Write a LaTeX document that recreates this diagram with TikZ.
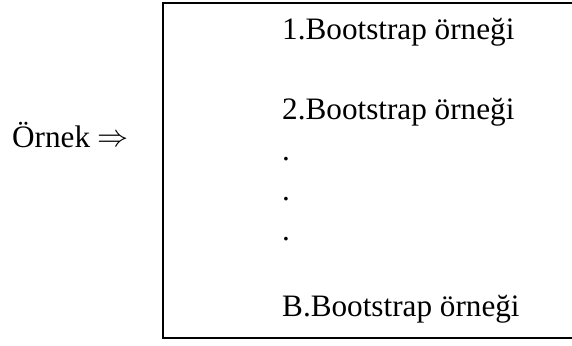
\documentclass[tikz,border=0pt]{standalone}
\usepackage{fontspec}
\usepackage{graphicx}
\setmainfont{Liberation Serif}
\begin{document}
\begin{tikzpicture}[x=1pt,y=-1pt,
  lbl/.style={inner sep=0pt,anchor=base west,font=\fontsize{31.2}{36}\selectfont},
  frame/.style={draw=black,line width=2pt}]
\useasboundingbox (0,0) rectangle (572,345);
\clip (0,0) rectangle (572,345);
\coordinate (tr) at (590,3);
\coordinate (tl) at (163,3);
\coordinate (bl) at (163,338);
\coordinate (br) at (590,338);
\draw[frame] (tr) -- (tl) -- (bl) -- (br);
\node[lbl] (s1) at (282,40) {1.Bootstrap örneği};
\node[lbl] (s2) at (282,119) {2.Bootstrap örneği};
\node[lbl] (d1) at (282,160) {.};
\node[lbl] (d2) at (282,200) {.};
\node[lbl] (d3) at (282,240) {.};
\node[lbl] (sb) at (282,316) {B.Bootstrap örneği};
\node[lbl] (ornek) at (12,147) {Örnek \raisebox{1pt}{\scalebox{1.25}{$\Rightarrow$}}};
\end{tikzpicture}
\end{document}
